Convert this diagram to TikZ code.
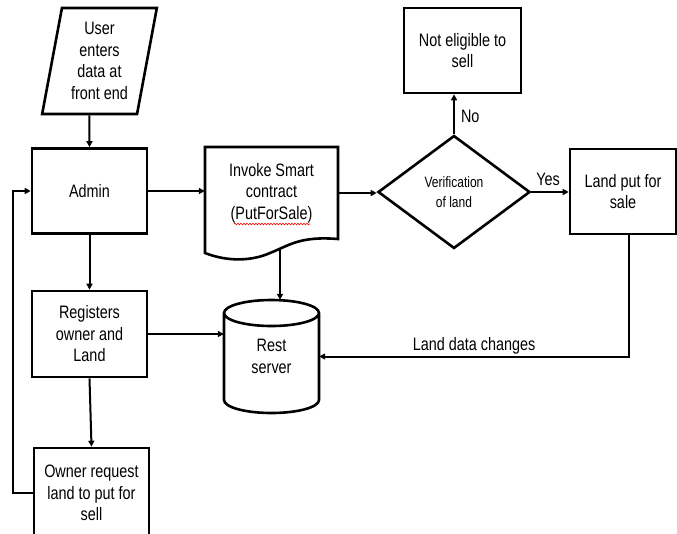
\documentclass[tikz,border=0pt]{standalone}
\usepackage{fontspec}
\setmainfont{Liberation Sans}[FakeStretch=0.8]
\usetikzlibrary{shapes.geometric,arrows.meta,decorations.pathmorphing}
\begin{document}
\begin{tikzpicture}[x=1pt,y=-1pt,
  boxline/.style={line width=2.6pt,line join=miter},
  box/.style={draw,boxline,rectangle,align=center,inner sep=0pt,
    font=\fontsize{18}{21.5}\selectfont},
  txt/.style={align=center,inner sep=0pt,font=\fontsize{18}{21.5}\selectfont},
  arr/.style={line width=2pt,-{Triangle[length=6pt,width=6pt]}},
  lbl/.style={inner sep=0pt,font=\fontsize{18}{21.5}\selectfont}]
\useasboundingbox (0,0) rectangle (677,533);
\clip (0,0) rectangle (677,533);
% input parallelogram
\node[draw,boxline,trapezium,trapezium left angle=79,trapezium right angle=101,
  trapezium stretches,minimum width=115pt,minimum height=106pt,inner sep=0pt,
  align=center,font=\fontsize{18}{21.5}\selectfont] (inp) at (99.5,61)
  {User\\enters\\data at\\front end};
\node[box,minimum width=115pt,minimum height=85pt] (admin) at (89.5,191) {Admin};
% document
\node[txt,minimum width=133pt,minimum height=92pt] (doc) at (271.5,193)
  {Invoke Smart\\contract\\(PutForSale)};
\draw[boxline] (205,147) -- (338,147) -- (338,239)
  .. controls (300,236) and (290,245) .. (270,253)
  .. controls (252,261) and (228,262) .. (205,253) -- cycle;
\draw[red,line width=0.6pt,decorate,decoration={snake,amplitude=0.8pt,segment length=3pt}]
  (234,224) -- (310,224);
\coordinate (dw) at (280,250);
% diamond
\node[draw,boxline,diamond,aspect=1.35,minimum width=152pt,minimum height=113pt,
  inner sep=0pt,align=center,font=\fontsize{15}{19.5}\selectfont] (ver) at (454,192)
  {Verification\\of land};
\node[box,minimum width=117pt,minimum height=85pt] (noel) at (462.5,50.5)
  {Not eligible to\\sell};
\node[box,minimum width=106pt,minimum height=85pt] (land) at (623,191.5)
  {Land put for\\sale};
\node[box,minimum width=115pt,minimum height=86pt] (reg) at (89.5,334)
  {Registers\\owner and\\Land};
\node[box,minimum width=115pt,minimum height=90pt] (own) at (91.5,493)
  {Owner request\\land to put for\\sell};
% cylinder
\node[txt,minimum width=95pt,minimum height=113pt] (rest) at (271.5,356.5)
  {Rest\\server};
\draw[boxline] (224,313) -- (224,400) arc[start angle=180,end angle=360,x radius=47.5pt,y radius=13pt]
  -- (319,313) arc[start angle=0,end angle=180,x radius=47.5pt,y radius=13pt]
  arc[start angle=180,end angle=360,x radius=47.5pt,y radius=13pt];
% connectors
\draw[arr] (inp.bottom side) -- (admin.north);
\draw[arr] (admin.east) -- (admin.east -| doc.west);
\draw[arr] (doc.east) -- (doc.east -| ver.west);
\draw[arr] (ver.north) -- (ver.north |- noel.south) node[lbl,pos=0.45,right=6pt] {No};
\draw[arr] (ver.east) -- (ver.east -| land.west) node[lbl,pos=0.45,above=5pt] {Yes};
\draw[arr] ([xshift=6pt]land.south) |- (rest.east)
  node[lbl,pos=0.75,above=1pt] {Land data changes};
\draw[arr] (dw) -- (dw |- rest.north);
\draw[arr] (admin.south) -- (reg.north);
\draw[arr] (reg.east) -- (reg.east -| rest.west);
\draw[arr] (reg.south) -- (own.north);
\draw[arr] (own.west) -- (13,493) |- (admin.west);
\end{tikzpicture}
\end{document}
